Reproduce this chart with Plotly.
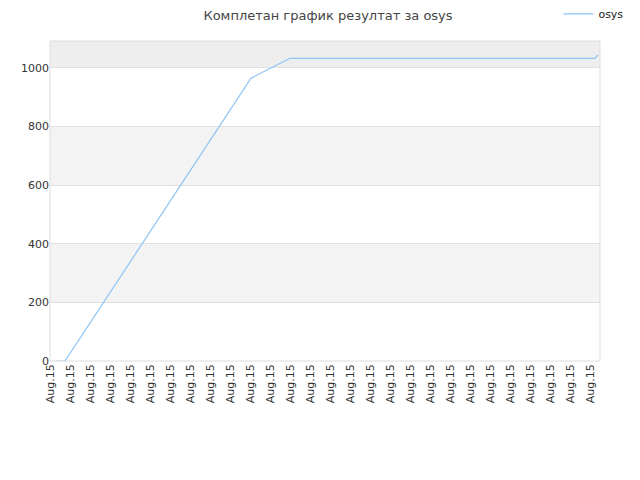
import plotly.graph_objects as go

# data
x_vals = [0.35, 0.75, 10.05, 12.0, 27.25, 27.4]
y_vals = [0, 0, 965, 1033, 1033, 1045]
tick_pos = list(range(28))
tick_labels = ["Aug.15"] * 28
bands = [(200, 400, "#f3f3f3"), (600, 800, "#f3f3f3"), (1000, 1092, "#eeeeee")]

fig = go.Figure()
fig.add_trace(go.Scatter(x=x_vals, y=y_vals, mode="lines", name="osys",
                         line=dict(color="#8dc3f5", width=1.2)))

shapes = []
for y0, y1, c in bands:
    shapes.append(dict(type="rect", xref="paper", yref="y", x0=0, x1=1, y0=y0, y1=y1,
                       fillcolor=c, line=dict(width=0), layer="below"))
shapes.append(dict(type="rect", xref="paper", yref="paper", x0=0, x1=1, y0=0, y1=1,
                   line=dict(color="#dddddd", width=1), fillcolor="rgba(0,0,0,0)"))

fig.update_layout(
    width=640, height=480,
    margin=dict(l=42, r=48, t=33, b=127, autoexpand=False),
    paper_bgcolor="white", plot_bgcolor="white",
    title=dict(text="Комплетан график резултат за osys", x=0.5, xanchor="center",
               y=1.0, yanchor="top", pad=dict(t=3, b=0, l=0, r=0),
               font=dict(family="DejaVu Sans", size=13, color="#444")),
    font=dict(family="DejaVu Sans", size=11, color="#333"),
    showlegend=True,
    legend=dict(x=0.86, y=1.085, xanchor="left", yanchor="middle", xref="container", yref="paper",
                font=dict(size=11, color="#222"), bgcolor="rgba(0,0,0,0)"),
    shapes=shapes,
    xaxis=dict(range=[0, 27.5], tickmode="array", tickvals=tick_pos, ticktext=tick_labels,
               tickangle=-90, showgrid=False, zeroline=False, showline=False,
               ticks="", tickfont=dict(size=11, color="#333")),
    yaxis=dict(range=[0, 1092], tickvals=[0, 200, 400, 600, 800, 1000],
               showgrid=True, gridcolor="#e0e0e0", zeroline=False, showline=False,
               ticks="", tickfont=dict(size=11, color="#333")),
)
fig.write_html("out.html")
